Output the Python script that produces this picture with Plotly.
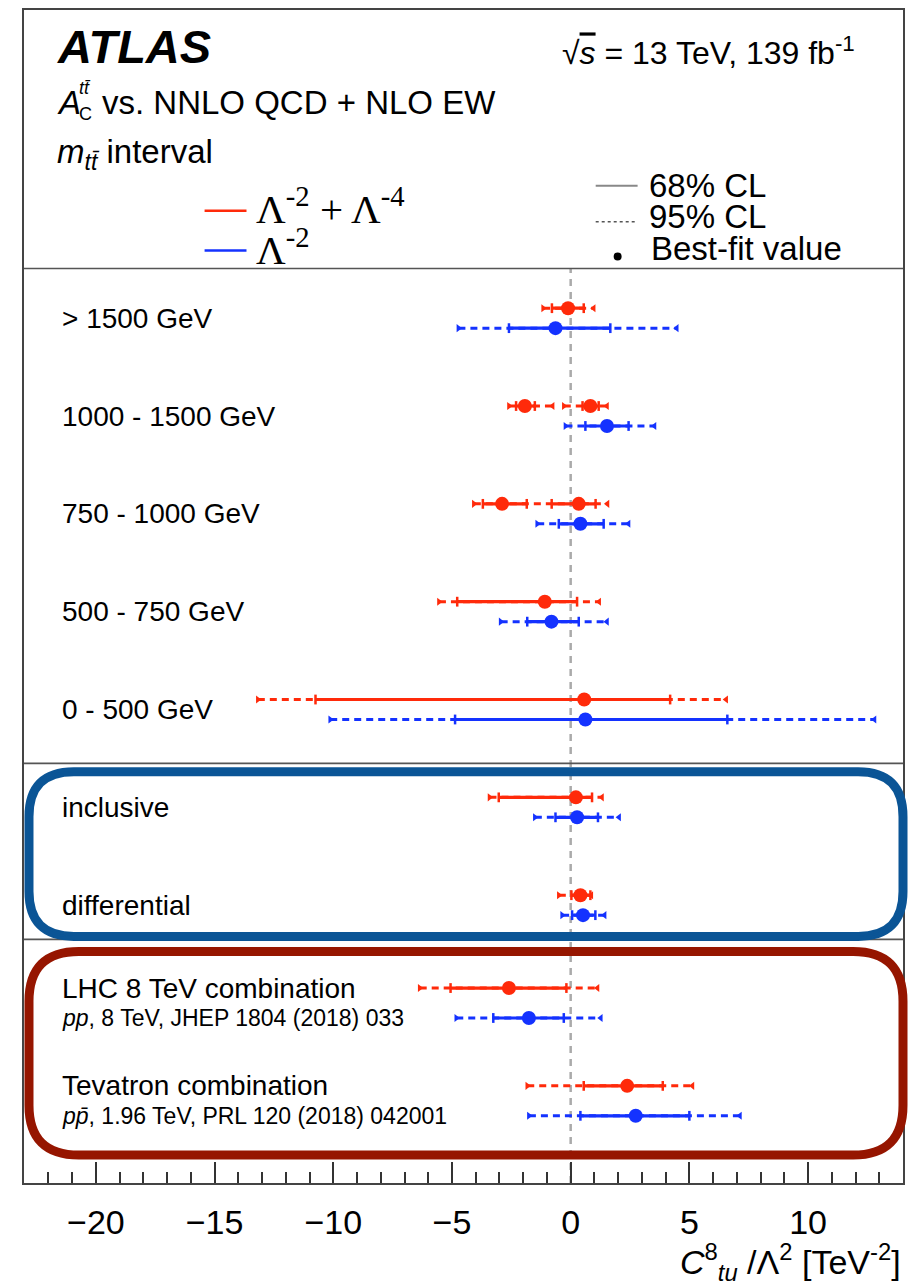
import plotly.graph_objects as go

# ---------------- data ----------------
row_labels = ["> 1500 GeV", "1000 - 1500 GeV", "750 - 1000 GeV", "500 - 750 GeV",
              "0 - 500 GeV", "inclusive", "differential",
              "LHC 8 TeV combination", "Tevatron combination"]
row_sublabels = ["", "", "", "", "", "", "",
                 "<i>pp</i>, 8 TeV, JHEP 1804 (2018) 033",
                 "<i>p</i><i>p̄</i>, 1.96 TeV, PRL 120 (2018) 042001"]

# Lambda^-2 + Lambda^-4 (red)
red_best = [[-0.11], [-1.93, 0.83], [-2.89, 0.34], [-1.09], [0.57], [0.22], [0.41], [-2.60], [2.38]]
red_68 = [[(-0.79, 0.55)], [(-2.30, -1.51), (0.50, 1.18)], [(-3.70, -1.85), (-0.80, 1.05)],
          [(-4.78, 0.27)], [(-10.75, 4.19)], [(-3.03, 0.90)], [(0.03, 0.83)],
          [(-5.06, -0.18)], [(0.55, 3.88)]]
red_95 = [[(-1.16, 0.97)], [(-2.60, -0.76), (-0.29, 1.53)], [(-4.08, 1.55)],
          [(-5.55, 1.20)], [(-13.18, 6.55)], [(-3.42, 1.32)], [(-0.50, 0.87)],
          [(-6.36, 1.13)], [(-1.83, 5.13)]]

# Lambda^-2 (blue)
blue_best = [[-0.64], [1.53], [0.41], [-0.81], [0.62], [0.27], [0.52], [-1.76], [2.74]]
blue_68 = [[(-2.60, 1.67)], [(0.62, 2.44)], [(-0.50, 1.39)], [(-1.83, 0.34)], [(-4.87, 6.60)],
           [(-0.64, 1.15)], [(0.06, 1.04)], [(-3.26, -0.29)], [(0.41, 5.00)]]
blue_95 = [[(-4.73, 4.47)], [(-0.22, 3.53)], [(-1.41, 2.44)], [(-2.95, 1.53)], [(-10.13, 12.80)],
           [(-1.51, 2.04)], [(-0.36, 1.43)], [(-4.82, 1.27)], [(-1.76, 7.13)]]

x_ticks = [-20, -15, -10, -5, 0, 5, 10]
x_range = [-23.03, 14.0]

# ---------------- layout constants (pixels) ----------------
W, H = 913, 1286
PL, PR, PT, PB = 24, 905, 8, 1183
ROW0, STEP = 316.7, 98.0
RED_C, BLUE_C = "#ff2a0a", "#1432ff"
FONT = "Liberation Sans"


def pxx(xp):
    return (xp - PL) / (PR - PL)


def pxy(yp):
    return (PB - yp) / (PB - PT)


def row_y(i):
    return ROW0 + STEP * i


def offset(i):
    return 15.0 if i >= 7 else 10.0


fig = go.Figure()


def add_series(best, i68, i95, color, sign):
    xs95, ys95, xs68, ys68 = [], [], [], []
    bx, by = [], []
    l95x, l95y, r95x, r95y, e68x, e68y = [], [], [], [], [], []
    for i in range(len(best)):
        y = row_y(i) + sign * offset(i)
        for lo, hi in i95[i]:
            xs95.extend([lo, hi, None])
            ys95.extend([y, y, None])
            l95x.append(lo); l95y.append(y)
            r95x.append(hi); r95y.append(y)
        for lo, hi in i68[i]:
            xs68.extend([lo, hi, None])
            ys68.extend([y, y, None])
            e68x.extend([lo, hi]); e68y.extend([y, y])
        for b in best[i]:
            bx.append(b); by.append(y)
    fig.add_trace(go.Scatter(x=xs95, y=ys95, mode="lines",
                             line=dict(color=color, width=3, dash="7px,5px"),
                             hoverinfo="skip"))
    fig.add_trace(go.Scatter(x=l95x, y=l95y, mode="markers",
                             marker=dict(symbol="triangle-right", size=7, color=color),
                             hoverinfo="skip"))
    fig.add_trace(go.Scatter(x=r95x, y=r95y, mode="markers",
                             marker=dict(symbol="triangle-left", size=7, color=color),
                             hoverinfo="skip"))
    fig.add_trace(go.Scatter(x=xs68, y=ys68, mode="lines",
                             line=dict(color=color, width=3.2), hoverinfo="skip"))
    fig.add_trace(go.Scatter(x=e68x, y=e68y, mode="markers",
                             marker=dict(symbol="line-ns", size=7,
                                         line=dict(color=color, width=2.5)),
                             hoverinfo="skip"))
    fig.add_trace(go.Scatter(x=bx, y=by, mode="markers",
                             marker=dict(symbol="circle", size=14, color=color),
                             hoverinfo="skip"))


shapes = []
# zero line
shapes.append(dict(type="line", xref="x", yref="paper", x0=0, x1=0, y0=0, y1=pxy(267),
                   line=dict(color="#aaaaaa", width=2.5, dash="7px,6px"), layer="below"))

add_series(red_best, red_68, red_95, RED_C, -1)
add_series(blue_best, blue_68, blue_95, BLUE_C, +1)

# separators
for ys in [267, 762.7, 939]:
    shapes.append(dict(type="line", xref="paper", yref="paper", x0=0, x1=1,
                       y0=pxy(ys), y1=pxy(ys), line=dict(color="#555555", width=1.6)))


def rounded_box(x0, y0, x1, y1, r):
    pts = [("M", [(x0 + r, y0)]), ("L", [(x1 - r, y0)]), ("Q", [(x1, y0), (x1, y0 + r)]),
           ("L", [(x1, y1 - r)]), ("Q", [(x1, y1), (x1 - r, y1)]), ("L", [(x0 + r, y1)]),
           ("Q", [(x0, y1), (x0, y1 - r)]), ("L", [(x0, y0 + r)]), ("Q", [(x0, y0), (x0 + r, y0)])]
    s = ""
    for cmd, pp in pts:
        s += cmd + " " + " ".join(f"{pxx(a):.5f},{pxy(b):.5f}" for a, b in pp) + " "
    return s + "Z"


# hand-drawn highlight boxes (thick main stroke + slightly offset rough strokes)
for dx, dy, w, op in [(0, 0, 9, 1.0), (-1.5, 1.5, 4, 0.8), (1.5, -1.5, 4, 0.8)]:
    shapes.append(dict(type="path", xref="paper", yref="paper",
                       path=rounded_box(29 + dx, 771 + dy, 905 - dx, 936 - dy, 45),
                       line=dict(color="#0b5596", width=w), opacity=op))
    shapes.append(dict(type="path", xref="paper", yref="paper",
                       path=rounded_box(29 + dx, 951 + dy, 905 - dx, 1155 - dy, 50),
                       line=dict(color="#961600", width=w), opacity=op))

# legend graphics
shapes.append(dict(type="line", xref="paper", yref="paper", x0=pxx(205), x1=pxx(247),
                   y0=pxy(209), y1=pxy(209), line=dict(color=RED_C, width=2.5)))
shapes.append(dict(type="line", xref="paper", yref="paper", x0=pxx(205), x1=pxx(247),
                   y0=pxy(249), y1=pxy(249), line=dict(color=BLUE_C, width=2.5)))
shapes.append(dict(type="line", xref="paper", yref="paper", x0=pxx(597), x1=pxx(639),
                   y0=pxy(184), y1=pxy(184), line=dict(color="#888888", width=2)))
shapes.append(dict(type="line", xref="paper", yref="paper", x0=pxx(597), x1=pxx(639),
                   y0=pxy(220), y1=pxy(220), line=dict(color="#555555", width=1.5, dash="3px,3px")))
shapes.append(dict(type="circle", xref="paper", yref="paper", x0=pxx(615), x1=pxx(623),
                   y0=pxy(251), y1=pxy(259), fillcolor="black", line=dict(color="black", width=0)))

ann = []


def text(xp, yp, s, size, anchor="left", family=FONT, color="black"):
    ann.append(dict(xref="paper", yref="paper", x=pxx(xp), y=pxy(yp), text=s,
                    showarrow=False, xanchor=anchor, yanchor="middle",
                    font=dict(size=size, family=family, color=color)))


text(55, 45, "<b><i>ATLAS</i></b>", 47)
text(561, 49, "√<span style='text-decoration:overline'><i>s</i></span> = 13 TeV, 139 fb<sup>-1</sup>", 32)
text(55, 101, "<i>A</i>", 33)
text(77, 86, "<i>tt̄</i>", 18)
text(77, 112, "C", 18)
text(100, 101, "vs. NNLO QCD + NLO EW", 33)
text(55, 152, "<i>m</i><sub><i>tt̄</i></sub> interval", 33)
text(255, 204, "Λ<sup>-2</sup> + Λ<sup>-4</sup>", 41, family="Liberation Serif")
text(255, 245, "Λ<sup>-2</sup>", 41, family="Liberation Serif")
text(648, 184, "68% CL", 33)
text(648, 215, "95% CL", 33)
text(650, 247, "Best-fit value", 33)

for i, lab in enumerate(row_labels):
    if row_sublabels[i]:
        text(60, row_y(i) - offset(i), lab, 28)
        text(60, row_y(i) + offset(i), row_sublabels[i], 23)
    else:
        text(60, row_y(i), lab, 28)

# axis title
text(905, 1262, "<i>C</i><sup>8</sup><sub><i>tu</i></sub> /Λ<sup>2</sup> [TeV<sup>-2</sup>]", 34,
     anchor="right")

fig.update_layout(
    width=W, height=H, margin=dict(l=PL, r=W - PR, t=PT, b=H - PB),
    plot_bgcolor="white", paper_bgcolor="white", showlegend=False,
    shapes=shapes, annotations=ann,
    xaxis=dict(range=x_range, tickvals=x_ticks, ticks="inside", ticklen=21, tickwidth=1.5,
               tickcolor="#333333", showline=True, linecolor="#444444", linewidth=2,
               mirror=True, showgrid=False, zeroline=False, ticklabelstandoff=8,
               tickfont=dict(size=34, family=FONT, color="black"),
               minor=dict(dtick=1, ticks="inside", ticklen=11, tickwidth=1.5,
                          tickcolor="#333333", showgrid=False)),
    yaxis=dict(range=[PB, PT], showticklabels=False, showgrid=False, zeroline=False,
               showline=True, linecolor="#444444", linewidth=2, mirror=True, ticks=""),
)

fig.write_html("out.html")
